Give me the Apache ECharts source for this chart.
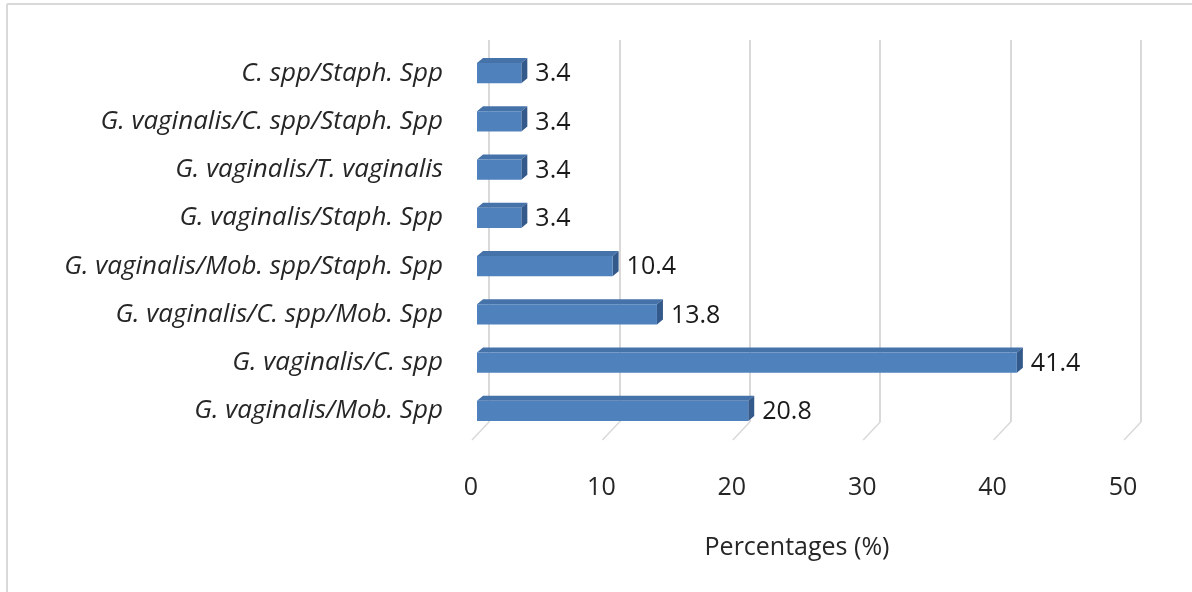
<!DOCTYPE html>
<html>
<head>
<meta charset="utf-8">
<script src="https://cdn.jsdelivr.net/npm/echarts@6/dist/echarts.min.js"></script>
<style>
html, body { margin: 0; padding: 0; background: #fff; }
#chart { width: 1192px; height: 592px; }
</style>
</head>
<body>
<div id="chart"></div>
<script>
// 类别（自上而下）
const categories = [
    'C. spp/Staph. Spp',
    'G. vaginalis/C. spp/Staph. Spp',
    'G. vaginalis/T. vaginalis',
    'G. vaginalis/Staph. Spp',
    'G. vaginalis/Mob. spp/Staph. Spp',
    'G. vaginalis/C. spp/Mob. Spp',
    'G. vaginalis/C. spp',
    'G. vaginalis/Mob. Spp'
]
const values = [3.4, 3.4, 3.4, 3.4, 10.4, 13.8, 41.4, 20.8]
const xTicks = [0, 10, 20, 30, 40, 50]
const axisName = 'Percentages (%)'

const FONT = '"Open Sans"'
const FONT_SIZE = 25
const CAT_FONT_SIZE = 26
const GRID_LINE = '#d9d9d9'

/**
 * 画出 3D 条形（正面 + 顶面 + 侧面 + 数值）
 */
function renderBar(params, api) {
    let v = api.value(0)
    let c = api.value(1)
    let start = api.coord([0, c])
    let end = api.coord([v, c])
    let h = api.size([0, 1])[1] * 0.42
    let dx = 6, dy = 5
    let x0 = start[0], x1 = end[0]
    let y0 = end[1] - h / 2, y1 = end[1] + h / 2
    return {
        type: 'group',
        children: [
            {
                type: 'polygon',
                shape: { points: [[x0, y0], [x0 + dx, y0 - dy], [x1 + dx, y0 - dy], [x1, y0]] },
                style: { fill: '#4572a9' }
            },
            {
                type: 'polygon',
                shape: { points: [[x1, y0], [x1 + dx, y0 - dy], [x1 + dx, y1 - dy], [x1, y1]] },
                style: { fill: '#34598b' }
            },
            {
                type: 'rect',
                shape: { x: x0, y: y0, width: x1 - x0, height: h },
                style: { fill: '#4f81bd' }
            },
            {
                type: 'text',
                x: x1 + dx + 8,
                y: end[1] + 1,
                style: {
                    text: v.toFixed(1),
                    fill: '#1a1a1a',
                    font: FONT_SIZE + 'px ' + FONT,
                    verticalAlign: 'middle',
                    align: 'left'
                }
            }
        ]
    }
}

/**
 * 底面斜线（网格线落到前沿）
 */
function renderFloor(params, api) {
    let p = api.coord([api.value(0), 0])
    return {
        type: 'line',
        shape: { x1: p[0], y1: p[1], x2: p[0] - 17, y2: p[1] + 18 },
        style: { stroke: GRID_LINE, lineWidth: 1.5 }
    }
}

var myChart = echarts.init(document.getElementById('chart'))

myChart.setOption({
    animation: false,
    graphic: [
        { type: 'line', shape: { x1: 7, y1: 4, x2: 1192, y2: 4 }, style: { stroke: '#d9d9d9', lineWidth: 2 } },
        { type: 'line', shape: { x1: 7, y1: 4, x2: 7, y2: 592 }, style: { stroke: '#d9d9d9', lineWidth: 2 } }
    ],
    grid: [
        // 条形
        { left: 477, width: 652, top: 49, height: 386, containLabel: false, outerBoundsMode: 'none' },
        // 背面网格
        { left: 489, width: 652, top: 40, height: 382, containLabel: false, outerBoundsMode: 'none' },
        // 前沿刻度
        { left: 471, width: 652, top: 40, height: 400, containLabel: false, outerBoundsMode: 'none' }
    ],
    xAxis: [
        {
            gridIndex: 0, type: 'value', min: xTicks[0], max: xTicks[xTicks.length - 1],
            interval: xTicks[1] - xTicks[0], show: false
        },
        {
            gridIndex: 1, type: 'value', min: xTicks[0], max: xTicks[xTicks.length - 1],
            interval: xTicks[1] - xTicks[0],
            axisLine: { show: false }, axisTick: { show: false }, axisLabel: { show: false },
            splitLine: { show: true, lineStyle: { color: GRID_LINE, width: 2 } }
        },
        {
            gridIndex: 2, type: 'value', min: xTicks[0], max: xTicks[xTicks.length - 1],
            interval: xTicks[1] - xTicks[0],
            axisLine: { show: false }, axisTick: { show: false }, splitLine: { show: false },
            axisLabel: { margin: 35, fontSize: FONT_SIZE, fontFamily: FONT, color: '#262626' },
            name: axisName, nameLocation: 'middle', nameGap: 95,
            nameTextStyle: { fontSize: FONT_SIZE, fontFamily: FONT, color: '#262626' }
        }
    ],
    yAxis: [
        {
            gridIndex: 0, type: 'category', data: categories, inverse: true,
            axisLine: { show: false }, axisTick: { show: false }, splitLine: { show: false },
            axisLabel: {
                margin: 34, fontSize: CAT_FONT_SIZE, fontFamily: FONT, fontStyle: 'italic', color: '#262626'
            }
        },
        { gridIndex: 1, type: 'value', min: 0, max: 1, show: false },
        { gridIndex: 2, type: 'value', min: 0, max: 1, show: false }
    ],
    series: [
        {
            type: 'custom',
            xAxisIndex: 1, yAxisIndex: 1,
            renderItem: renderFloor,
            data: xTicks.map(v => [v]),
            silent: true, z: 1
        },
        {
            type: 'custom',
            xAxisIndex: 0, yAxisIndex: 0,
            renderItem: renderBar,
            data: values.map((v, i) => [v, i]),
            encode: { x: 0, y: 1 },
            z: 3
        }
    ]
})
</script>
</body>
</html>
